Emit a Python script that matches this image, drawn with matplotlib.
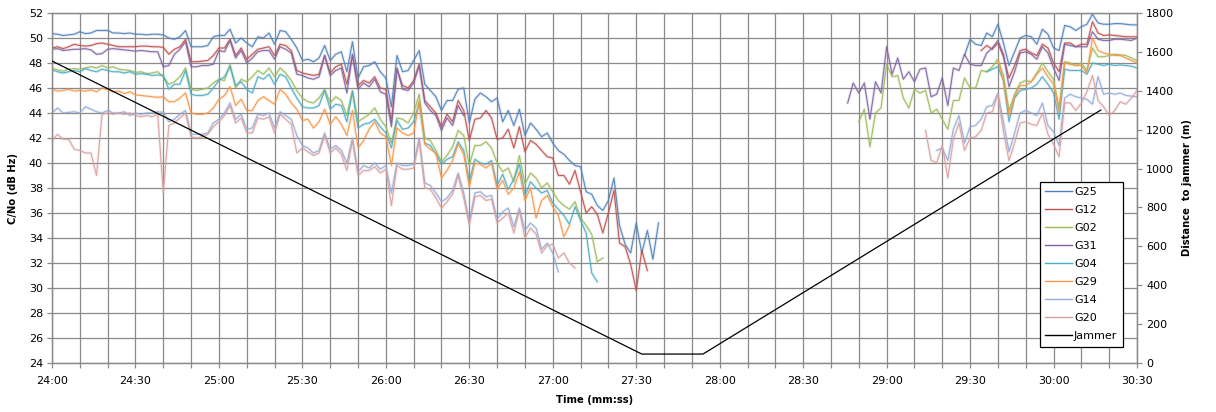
import numpy as np
import matplotlib
matplotlib.use("Agg")
import matplotlib.pyplot as plt
from matplotlib.ticker import MultipleLocator, FuncFormatter
from matplotlib.lines import Line2D
import matplotlib.patheffects as pe

nan = float('nan')

# time axis: seconds after 24:00, sampled every 2 s
seg1_t = list(range(0, 220, 2))     # 24:00 .. 27:38
seg2_t = list(range(286, 392, 2))   # 28:46 .. 30:30

names = ["G25", "G12", "G02", "G31", "G04", "G29", "G14", "G20"]
colors = ["#4F81BD", "#C0504D", "#9BBB59", "#8064A2", "#4BACC6", "#F79646", "#95ABD8", "#D9A0A0"]

g25_s1 = [50.35, 50.3, 50.2, 50.25, 50.3, 50.5, 50.35, 50.4, 50.6, 50.6,
          50.6, 50.4, 50.4, 50.35, 50.4, 50.3, 50.3, 50.25, 50.3, 50.3,
          50.25, 50.0, 49.9, 50.1, 50.6, 49.3, 49.3, 49.3, 49.4, 50.1,
          50.2, 50.2, 50.7, 49.6, 50.0, 49.6, 49.3, 50.1, 50.0, 50.4,
          49.5, 50.6, 50.5, 49.9, 49.2, 48.2, 48.3, 48.1, 48.4, 49.4,
          48.2, 48.7, 48.9, 47.3, 49.7, 46.8, 47.7, 47.8, 48.1, 47.3,
          46.8, 44.5, 48.6, 47.3, 47.4, 48.2, 49.0, 46.3, 45.8, 45.3,
          44.2, 45.0, 45.0, 45.9, 46.0, 43.2, 45.1, 45.6, 45.3, 44.9,
          45.2, 43.3, 44.2, 43.0, 44.3, 42.2, 43.2, 42.7, 42.1, 42.4,
          41.6, 41.0, 40.7, 40.2, 39.8, 39.7, 37.7, 37.5, 36.6, 36.2,
          37.0, 38.8, 35.0, 33.5, 32.8, 35.2, 32.8, 34.6, 32.3, 35.2]
g12_s1 = [49.2, 49.3, 49.15, 49.3, 49.5, 49.4, 49.35, 49.4, 49.55, 49.6,
          49.5, 49.4, 49.3, 49.3, 49.3, 49.3, 49.35, 49.35, 49.3, 49.3,
          49.25, 48.7, 49.1, 49.3, 49.9, 48.1, 48.1, 48.15, 48.2, 48.6,
          49.2, 49.2, 49.9, 48.6, 49.2, 48.3, 48.7, 49.1, 49.2, 49.3,
          48.6, 49.5, 49.4, 49.0, 47.4, 47.2, 47.1, 47.0, 47.1, 48.6,
          47.2, 47.7, 47.9, 46.3, 48.6, 46.2, 46.6, 46.4, 46.9, 46.0,
          45.9, 43.3, 47.5, 46.2, 46.0, 46.6, 47.9, 45.0, 44.5, 44.0,
          42.9, 43.9, 43.3, 45.0, 44.2, 41.8, 43.5, 43.6, 44.2, 43.6,
          41.9, 42.0, 42.7, 41.2, 42.9, 40.9, 41.8, 41.5, 41.0, 40.5,
          40.4, 39.0, 39.0, 38.3, 39.4, 37.7, 36.0, 36.5, 35.9, 34.4,
          36.0, 37.8, 33.6, 33.3, 31.9, 29.8, 33.0, 31.4, nan, nan]
g02_s1 = [47.6, 47.45, 47.35, 47.5, 47.55, 47.5, 47.6, 47.7, 47.6, 47.8,
          47.6, 47.7, 47.5, 47.45, 47.4, 47.25, 47.3, 47.15, 47.2, 47.3,
          46.9, 46.3, 46.5, 46.9, 47.6, 45.9, 45.8, 45.9, 46.0, 46.4,
          46.7, 46.6, 47.9, 46.0, 46.7, 46.5, 46.9, 47.4, 47.1, 47.6,
          46.9, 47.6, 47.2, 46.6, 45.8, 45.2, 44.9, 44.8, 45.2, 45.9,
          44.8, 45.3, 45.0, 43.8, 45.8, 43.3, 43.6, 43.9, 44.4, 43.5,
          42.9, 41.6, 43.6, 43.5, 43.2, 44.0, 45.5, 42.0, 41.8, 41.0,
          40.1, 40.6, 41.3, 42.6, 42.2, 39.8, 41.4, 41.4, 41.7, 41.2,
          40.0, 39.3, 39.6, 38.5, 40.6, 38.3, 39.2, 38.8, 38.0, 38.4,
          37.7, 37.0, 36.6, 36.3, 36.9, 35.6, 35.0, 34.3, 32.1, 32.4,
          nan, nan, nan, nan, nan, nan, nan, nan, nan, nan]
g31_s1 = [49.1, 49.15, 49.0, 49.05, 49.1, 49.1, 49.15, 49.05, 48.7, 48.75,
          49.1, 49.15, 49.1, 49.05, 49.0, 48.95, 49.0, 48.95, 48.9, 48.9,
          47.7, 47.8, 48.7, 49.1, 49.7, 47.7, 47.7, 47.8, 47.8, 47.9,
          49.0, 48.9, 49.8, 48.4, 49.0, 48.0, 48.4, 48.9, 49.0, 49.0,
          48.3, 49.3, 49.1, 48.8, 47.1, 47.0, 46.8, 46.7, 46.9, 48.6,
          47.0, 47.4, 47.6, 45.6, 48.7, 45.9, 46.4, 46.1, 46.7, 45.7,
          45.5, 42.9, 47.6, 45.9, 45.8, 46.4, 47.8, 44.8, 44.2, 43.8,
          42.6, 43.6, 43.0, 44.6, 43.8, nan, nan, nan, nan, nan,
          nan, nan, nan, nan, nan, nan, nan, nan, nan, nan,
          nan, nan, nan, nan, nan, nan, nan, nan, nan, nan,
          nan, nan, nan, nan, nan, nan, nan, nan, nan, nan]
g04_s1 = [47.45, 47.3, 47.2, 47.3, 47.4, 47.3, 47.55, 47.4, 47.3, 47.5,
          47.4, 47.3, 47.3, 47.2, 47.3, 47.1, 47.15, 47.1, 47.0, 47.05,
          47.0, 45.9, 46.3, 46.3, 47.4, 45.5, 45.4, 45.4, 45.5, 46.0,
          46.6, 46.9, 47.7, 46.2, 46.5, 45.9, 45.6, 46.9, 46.7, 47.1,
          46.3, 47.1, 46.9, 46.0, 45.2, 44.5, 44.4, 44.4, 44.6, 45.8,
          44.3, 44.7, 44.6, 43.3, 45.7, 42.8, 43.1, 43.2, 43.5, 42.9,
          42.4, 41.2, 43.4, 42.7, 42.8, 43.3, 44.8, 41.6, 41.4, 40.7,
          39.9, 40.3, 40.5, 41.7, 41.0, 38.5, 40.3, 40.0, 39.9, 40.2,
          38.2, 39.1, 37.9, 38.7, 39.9, 37.4, 38.5, 38.0, 37.6, 37.8,
          36.8, 36.3, 35.8, 35.1, 36.5, 35.4, 34.4, 31.2, 30.5, nan,
          nan, nan, nan, nan, nan, nan, nan, nan, nan, nan]
g29_s1 = [45.9, 45.75, 45.8, 45.9, 45.75, 45.8, 45.75, 45.85, 45.7, 46.0,
          45.85, 45.7, 45.75, 45.55, 45.7, 45.45, 45.4, 45.35, 45.3, 45.25,
          45.3, 44.9, 44.9, 45.2, 45.6, 44.0, 43.9, 43.9, 44.0, 44.4,
          45.1, 45.4, 46.1, 44.6, 45.1, 44.2, 44.2, 45.0, 45.3, 45.0,
          44.7, 45.9, 45.5, 44.8, 44.3, 43.4, 43.5, 42.8, 43.3, 44.3,
          43.1, 43.7, 43.1, 42.2, 44.2, 41.2, 41.8, 42.7, 43.3, 42.4,
          42.1, 39.8, 42.8, 42.4, 42.2, 42.4, 45.0, 41.5, 41.1, 40.8,
          38.8, 39.4, 40.2, 41.5, 40.7, 38.1, 40.0, 39.9, 39.6, 40.0,
          37.9, 38.6, 37.5, 38.0, 39.3, 37.0, 38.0, 35.6, 37.0, 37.4,
          36.5, 35.8, 34.1, 35.0, nan, nan, nan, nan, nan, nan,
          nan, nan, nan, nan, nan, nan, nan, nan, nan, nan]
g14_s1 = [44.0, 44.4, 44.0, 44.05, 44.1, 44.0, 44.5, 44.3, 44.1, 44.0,
          44.2, 44.0, 44.0, 44.1, 43.8, 44.0, 43.9, 44.0, 44.0, 44.1,
          44.05, 43.3, 43.5, 43.9, 44.2, 42.3, 42.3, 42.3, 42.4, 43.2,
          43.5, 44.0, 44.8, 43.5, 43.9, 42.7, 42.8, 43.9, 43.8, 44.0,
          42.8, 44.1, 43.8, 43.5, 42.2, 41.4, 41.2, 40.8, 41.0, 42.4,
          41.1, 41.4, 41.0, 40.0, 42.0, 39.3, 39.8, 39.6, 40.0, 39.5,
          39.8, 37.6, 40.0, 39.8, 39.8, 39.9, 42.0, 38.4, 38.2, 37.6,
          36.9, 37.2, 37.8, 39.2, 37.6, 35.3, 37.6, 37.7, 37.3, 37.4,
          35.5, 36.1, 36.4, 34.9, 36.4, 34.6, 35.2, 34.8, 33.1, 33.6,
          32.8, 31.3, nan, nan, nan, nan, nan, nan, nan, nan,
          nan, nan, nan, nan, nan, nan, nan, nan, nan, nan]
g20_s1 = [41.8, 42.3, 41.9, 41.9, 41.1, 41.0, 40.8, 40.8, 39.0, 43.9,
          44.0, 43.9, 44.0, 43.9, 44.0, 43.8, 43.7, 43.8, 43.7, 43.9,
          37.6, 43.0, 43.2, 43.6, 44.0, 42.1, 42.0, 42.1, 42.3, 42.9,
          43.3, 43.8, 44.6, 43.2, 43.6, 42.4, 42.4, 43.6, 43.5, 43.7,
          42.4, 43.9, 43.5, 43.1, 40.8, 41.2, 40.9, 40.6, 40.8, 42.2,
          40.8, 41.2, 40.7, 39.4, 41.8, 39.0, 39.4, 39.4, 39.7, 39.2,
          39.5, 36.6, 39.8, 39.5, 39.5, 39.6, 41.8, 38.0, 37.9, 37.2,
          36.4, 36.9, 37.5, 39.0, 37.2, 35.0, 37.3, 37.4, 37.0, 37.1,
          35.2, 35.6, 36.0, 34.4, 36.2, 34.0, 34.8, 34.3, 32.8, 33.4,
          33.5, 32.4, 32.8, 32.0, 31.6, nan, nan, nan, nan, nan,
          nan, nan, nan, nan, nan, nan, nan, nan, nan, nan]

g25_s2 = [nan] * 21 + [48.6, 49.9, 49.5, 49.4, 50.4, 50.1, 51.1, 49.6, 47.8, 48.9,
                       50.0, 50.2, 50.1, 49.5, 50.7, 50.3, 49.2, 49.0, 51.0, 50.9,
                       50.6, 50.9, 51.1, 51.9, 51.2, 51.1, 51.1, 51.15, 51.15, 51.1,
                       51.05, 51.05]
g12_s2 = [nan] * 24 + [49.0, 49.4, 49.1, 49.6, 48.5, 46.8, 47.8, 49.0, 49.1, 48.8,
                       48.6, 49.5, 49.2, 48.0, 47.3, 49.6, 49.6, 49.3, 49.5, 49.5,
                       51.3, 50.4, 50.2, 50.25, 50.2, 50.15, 50.1, 50.1, 50.1]
g02_s2 = [nan] * 2 + [43.3, 44.3, 41.3, 44.0, 44.4, 47.9, 46.9, 47.0, 45.2, 44.4,
                      45.9, 45.6, 45.8, 44.0, 44.3, 43.5, 42.7, 45.0, 45.0, 46.8,
                      46.0, 46.0, 47.4, 47.3, 47.7, 48.3, 47.0, 44.2, 45.5, 46.4,
                      46.6, 46.5, 47.2, 48.0, 47.3, 46.7, 44.4, 48.1, 48.0, 47.8,
                      48.0, 47.4, 49.2, 48.5, 48.5, 48.6, 48.7, 48.65, 48.6, 48.4,
                      48.2]
g31_s2 = [44.8, 46.4, 45.6, 46.4, 43.5, 46.5, 45.6, 49.3, 47.1, 48.4,
          46.7, 47.3, 46.5, 47.5, 47.6, 45.3, 45.5, 46.8, 44.6, 47.6,
          47.4, 48.7, 47.9, 47.8, 47.8, 48.8, 49.2, 49.8, 48.7, 46.1,
          47.3, 48.8, 48.9, 48.7, 48.3, 49.3, 48.8, 47.6, 46.6, 49.5,
          49.4, 49.3, 49.3, 49.3, 50.5, 49.9, 49.8, 49.8, 49.9, 49.9,
          49.85, 49.8, 50.0]
g04_s2 = [nan] * 25 + [47.3, 47.5, 47.7, 46.6, 43.3, 45.2, 45.8, 45.9, 46.0, 46.3,
                       46.9, 46.3, 45.6, 43.5, 47.5, 47.4, 47.4, 47.4, 47.1, 48.0,
                       47.9, 47.8, 47.9, 47.8, 47.85, 47.8, 47.75, 47.6]
g29_s2 = [nan] * 27 + [48.2, 46.6, 43.8, 45.3, 46.2, 46.2, 46.5, 47.1, 47.6, 46.9,
                       46.3, 44.1, 48.0, 47.9, 47.8, 47.8, 47.2, 50.0, 49.0, 48.8,
                       48.7, 48.6, 48.6, 48.4, 48.2, 48.0]
g14_s2 = [nan] * 16 + [41.0, 41.2, 40.2, 42.7, 43.8, 41.6, 42.9, 43.0, 43.5, 44.5,
                       44.6, 45.6, 43.3, 40.9, 42.4, 44.0, 44.2, 44.0, 43.8, 44.8,
                       43.0, 42.5, 41.4, 45.2, 45.5, 45.3, 45.2, 45.1, 44.7, 46.9,
                       45.5, 45.6, 45.5, 45.6, 45.4, 45.35, 45.3]
g20_s2 = [nan] * 14 + [42.6, 40.2, 40.0, 41.4, 38.8, 41.9, 43.2, 41.0, 42.0, 42.1,
                       42.6, 44.0, 44.1, 45.5, 42.5, 40.2, 41.6, 43.2, 43.3, 43.1,
                       43.0, 44.0, 42.3, 41.5, 40.5, 44.8, 44.8, 44.2, 44.8, 45.7,
                       47.0, 45.0, 44.5, 43.8, 44.2, 44.9, 44.7, 45.2, 45.8]

# jammer distance (m), piecewise linear
jam_t = [0, 212, 234, 377]
jam_d = [1553, 46, 46, 1301]

seg1 = [g25_s1, g12_s1, g02_s1, g31_s1, g04_s1, g29_s1, g14_s1, g20_s1]
seg2 = [g25_s2, g12_s2, g02_s2, g31_s2, g04_s2, g29_s2, g14_s2, g20_s2]

W, H = 1216, 412
fig = plt.figure(figsize=(W / 100, H / 100), dpi=100)
L, R, T, B = 52, 1137, 13, 363
ax = fig.add_axes([L / W, 1 - B / H, (R - L) / W, (B - T) / H])

grid_c = "#8a8a8a"
ax.set_xlim(0, 390)
ax.set_ylim(24, 52)
ax.xaxis.set_major_locator(MultipleLocator(10))
ax.yaxis.set_major_locator(MultipleLocator(2))

def fmt_time(v, pos):
    s = int(round(v))
    if s % 30 != 0:
        return ""
    return f"{24 + s // 60}:{s % 60:02d}"

ax.xaxis.set_major_formatter(FuncFormatter(fmt_time))
ax.grid(True, color=grid_c, linewidth=0.9, zorder=0)
ax.set_axisbelow(True)
for sp in ax.spines.values():
    sp.set_color(grid_c)
    sp.set_linewidth(0.9)
ax.tick_params(axis="both", direction="out", length=3.5, width=0.9, color=grid_c,
               labelsize=8, pad=3)
ax.tick_params(axis="x", pad=6)

handles = []
t_all = seg1_t + [250] + seg2_t
for name, col, s1, s2 in zip(names, colors, seg1, seg2):
    vals = s1 + [nan] + s2
    ax.plot(t_all, vals, color=col, linewidth=0.85, alpha=0.9, zorder=3,
            path_effects=[pe.Stroke(linewidth=2.2, foreground=col, alpha=0.16),
                          pe.Normal()])
    handles.append(Line2D([0], [0], color=col, linewidth=1.0))

ax2 = ax.twinx()
ax2.set_ylim(0, 1800)
ax2.yaxis.set_major_locator(MultipleLocator(200))
ax2.plot(jam_t, jam_d, color="black", linewidth=0.9, zorder=4)
for sp in ax2.spines.values():
    sp.set_color(grid_c)
    sp.set_linewidth(0.9)
ax2.tick_params(axis="y", direction="out", length=3.5, width=0.9, color=grid_c,
                labelsize=8, pad=3)
handles.append(Line2D([0], [0], color="black", linewidth=1.0))

ax.set_xlabel("Time (mm:ss)", fontsize=7.2, fontweight="bold", labelpad=6)
ax.set_ylabel("C/No (dB Hz)", fontsize=7.2, fontweight="bold", labelpad=8)
ax2.set_ylabel("Distance  to jammer (m)", fontsize=7.2, fontweight="bold", labelpad=6)

leg = ax2.legend(handles, names + ["Jammer"], loc="lower right",
                 bbox_to_anchor=(0.987, 0.046), borderaxespad=0, fontsize=8,
                 frameon=True, fancybox=False, framealpha=1, edgecolor="black",
                 handlelength=2.4, handletextpad=0.2, labelspacing=0.72,
                 borderpad=0.5)
leg.get_frame().set_linewidth(0.9)

fig.savefig("out.png", dpi=100)
